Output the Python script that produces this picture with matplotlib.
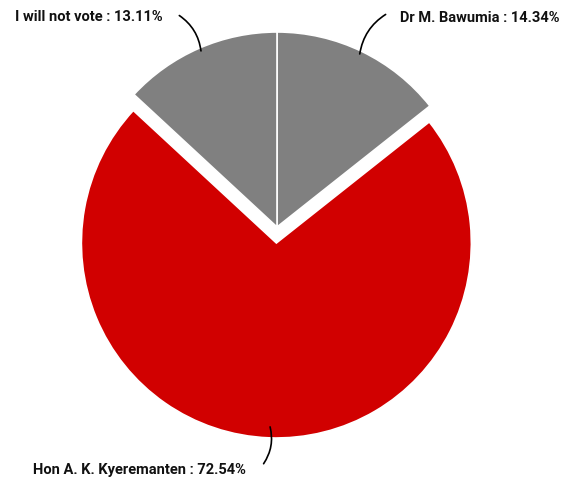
import matplotlib.pyplot as plt
import numpy as np

# vote shares, clockwise from 12 o'clock
labels = ["Dr M. Bawumia", "Hon A. K. Kyeremanten", "I will not vote"]
shares = [14.34, 72.54, 13.11]
colors = ["#808080", "#d10000", "#808080"]

plt.rcParams['font.family'] = ['Roboto', 'DejaVu Sans']

fig = plt.figure(figsize=(5.64, 4.84), dpi=100)
ax = fig.add_axes([0, 0, 1, 1])

cx, cy, r = 277, 257, 195
# explode is in data units here (axes are laid out in pixels)
wedges, _ = ax.pie(shares, colors=colors, explode=[0, 16, 0], startangle=90,
                   counterclock=False, center=(cx, cy), radius=r,
                   wedgeprops=dict(edgecolor='white', linewidth=1.2))
ax.set_xlim(0, 564)
ax.set_ylim(0, 484)
ax.set_aspect('equal')
ax.axis('off')

# label placement: (text x, text y, ha, line end x, line end y, anchor radius, rad)
spots = [
    (400, 466, 'left', 388, 471, 0.97, 0.25),
    (246, 14, 'right', 262, 18, 0.93, 0.25),
    (163, 467, 'right', 177, 470, 0.97, -0.25),
]

for w, lab, val, (tx, ty, ha, ex, ey, fr, rad) in zip(wedges, labels, shares, spots):
    mid = np.deg2rad((w.theta1 + w.theta2) / 2)
    wx, wy = w.center
    ax_pt = (wx + fr * w.r * np.cos(mid), wy + fr * w.r * np.sin(mid))
    ax.annotate('', xy=ax_pt, xytext=(ex, ey),
                arrowprops=dict(arrowstyle='-', color='black', lw=1.2,
                                connectionstyle=f'arc3,rad={rad}'))
    ax.text(tx, ty, f"{lab} : {val:.2f}%", ha=ha, va='center',
            fontsize=10.5, fontweight='bold', color='#111111')

fig.savefig('out.png', dpi=100)
